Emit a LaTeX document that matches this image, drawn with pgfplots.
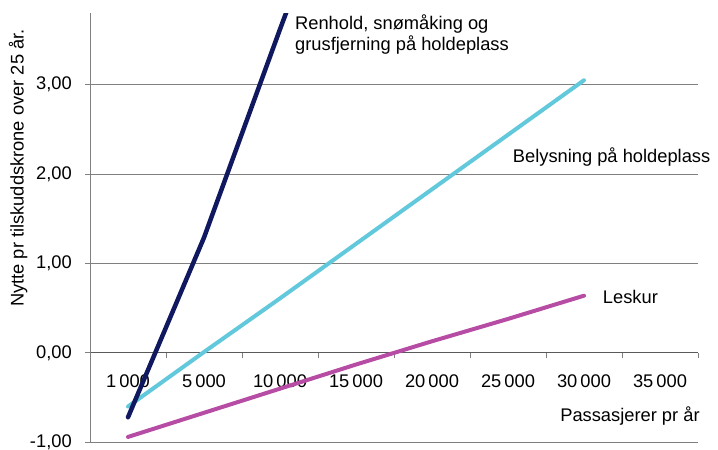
\documentclass[border=0pt]{standalone}
\usepackage{fontspec}
\setmainfont{Liberation Sans}
\usepackage{pgfplots}
\pgfplotsset{compat=1.18}

\definecolor{renhold}{RGB}{16,24,96}
\definecolor{belysning}{RGB}{98,200,220}
\definecolor{leskur}{RGB}{182,76,164}
\definecolor{gridgray}{RGB}{128,128,128}
\definecolor{axisgray}{RGB}{90,90,90}
\newcommand\cf{\fontsize{18.3bp}{22bp}\selectfont}

\begin{document}
\cf
\begin{tikzpicture}
\path[use as bounding box] (0,0) rectangle (718bp,450bp);
\begin{axis}[
    at={(90bp,7.7bp)}, anchor=south west,
    x=76bp, y=89.4bp,
    xmin=-0.5, xmax=7.5, ymin=-1, ymax=3.8,
    axis y line*=left,
    axis x line*=middle,
    clip mode=individual,
    font=\cf,
    ytick={-1,0,1,2,3},
    ymajorgrids,
    grid style={gridgray, line width=1bp},
    y axis line style={gridgray, line width=1bp},
    x axis line style={axisgray, line width=1bp},
    tick align=outside,
    major tick length=5bp,
    every tick/.style={gridgray, line width=1bp},
    yticklabel style={font=\cf, xshift=-7bp,
        /pgf/number format/.cd, fixed, fixed zerofill, precision=2,
        use comma, assume math mode=true},
    xtick={-0.5,0.5,1.5,2.5,3.5,4.5,5.5,6.5,7.5},
    xticklabels={,,,,,,,,,},
    extra x ticks={0,1,2,3,4,5,6,7},
    extra x tick labels={1\,000,5\,000,10\,000,15\,000,20\,000,25\,000,30\,000,35\,000},
    extra x tick style={major tick length=0pt, grid=none,
        xticklabel style={font=\cf, yshift=-16bp}},
    xlabel={Passasjerer pr år},
    xlabel style={font=\cf, at={(axis description cs:1.003,0.0496)}, anchor=base east, inner sep=0pt},
    ylabel={Nytte pr tilskuddskrone over 25 år.},
    ylabel style={font=\cf, at={(axis description cs:-0.118,0.639)}, anchor=center},
]
\addplot[leskur, line width=4bp, line cap=round, line join=round] coordinates {
    (0,-0.94) (1,-0.67) (2,-0.40) (3,-0.13) (4,0.13) (5,0.38) (6,0.64)
};
\addplot[belysning, line width=4bp, line cap=round, line join=round] coordinates {
    (0,-0.60) (1,0.01) (2,0.61) (3,1.22) (4,1.83) (5,2.44) (6,3.05)
};
\addplot[renhold, line width=4.5bp, line cap=round, line join=round] coordinates {
    (0,-0.72) (1,1.29) (2,3.62) (3,5.9)
};

\node[anchor=base west, inner sep=0pt, font=\cf] at (axis cs:2.197,3.62) {Renhold, snømåking og};
\node[anchor=base west, inner sep=0pt, font=\cf] at (axis cs:2.197,3.38) {grusfjerning på holdeplass};
\node[anchor=base west, inner sep=0pt, font=\cf] at (axis cs:5.062,2.132) {Belysning på holdeplass};
\node[anchor=base west, inner sep=0pt, font=\cf] at (axis cs:6.247,0.547) {Leskur};
\end{axis}
\end{tikzpicture}
\end{document}
